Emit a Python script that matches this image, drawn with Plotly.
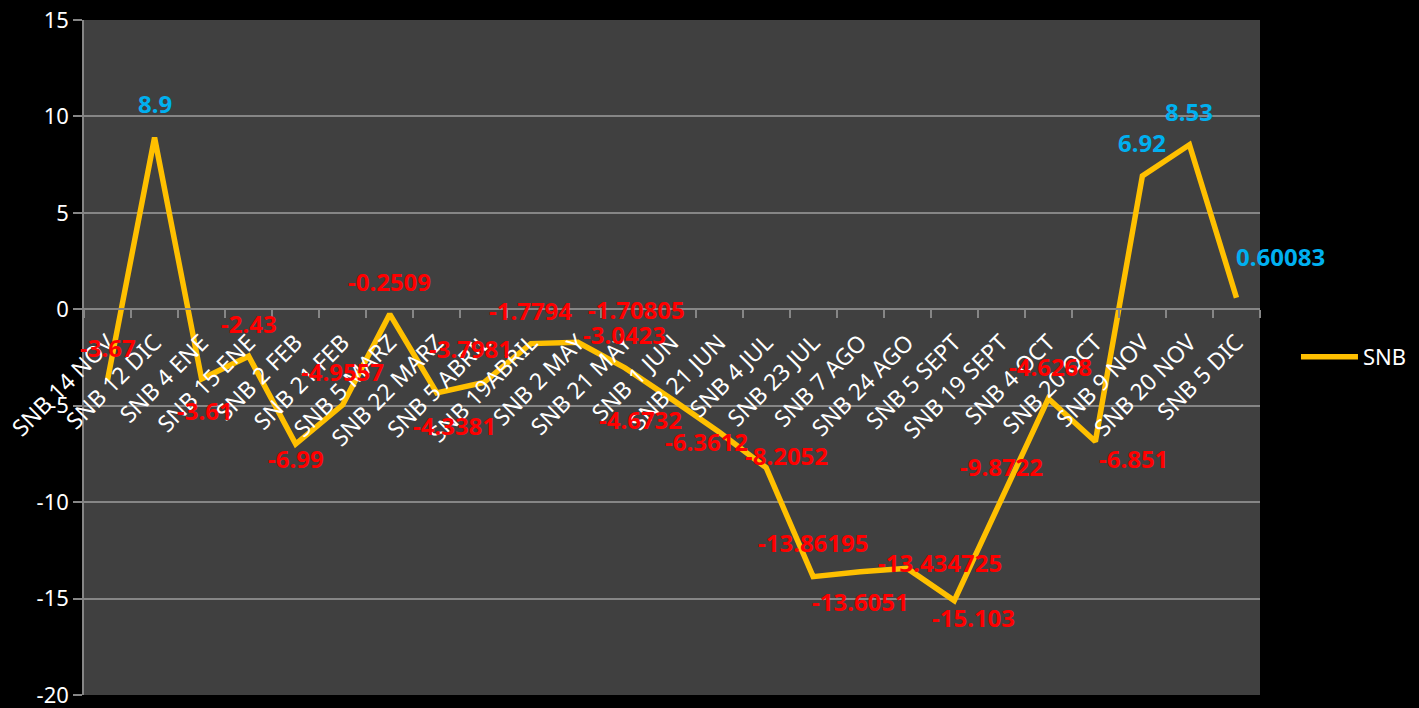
import plotly.graph_objects as go

categories = ["SNB 14 NOV", "SNB 12 DIC", "SNB 4 ENE", "SNB 15 ENE", "SNB 2 FEB",
              "SNB 21 FEB", "SNB 5 MARZ", "SNB 22 MARZ", "SNB 5 ABRIL", "SNB 19ABRIL",
              "SNB 2 MAY", "SNB 21 MAY", "SNB 1 JUN", "SNB 21 JUN", "SNB 4 JUL",
              "SNB 23 JUL", "SNB 7 AGO", "SNB 24 AGO", "SNB 5 SEPT", "SNB 19 SEPT",
              "SNB 4 OCT", "SNB 20 OCT", "SNB 9 NOV", "SNB 20 NOV", "SNB 5 DIC"]

snb_values = [-3.67, 8.9, -3.61, -2.43, -6.99, -4.9557, -0.2509, -4.3381, -3.7981, -1.7794,
              -1.70805, -3.0423, -4.6732, -6.3612, -8.2052, -13.86195, -13.6051, -13.434725,
              -15.103, -9.8722, -4.6268, -6.851, 6.92, 8.53, 0.60083]

label_texts = ["-3.67", "8.9", "-3.61", "-2.43", "-6.99", "-4.9557", "-0.2509", "-4.3381",
               "-3.7981", "-1.7794", "-1.70805", "-3.0423", "-4.6732", "-6.3612", "-8.2052",
               "-13.86195", "-13.6051", "-13.434725", "-15.103", "-9.8722", "-4.6268",
               "-6.851", "6.92", "8.53", "0.60083"]

# label offsets in pixels (dx right, dy down) relative to each point
label_dx = [0, 0, 3, 0, 0, 0, 0, 18, -13, 0, 59, 0, -32, -13, 20, 0, 0, 33, 19, 0, 2, 38, 0, 0, 44]
label_dy = [-33, -34, 32, -33, 14, -33, -33, 33, -34, -33, -33, -33, 20, 10, -12, -34, 30, -6, 17, -33, -32, 17, -33, -33, -41]

y_ticks = [-20, -15, -10, -5, 0, 5, 10, 15]
y_tick_text = ["-20", "-15", "-10", "-5", "0", "5", "10", "15"]
y_min, y_max = -20, 15

line_color = "#FFC000"
grid_color = "#868686"

fig = go.Figure()
fig.add_trace(go.Scatter(
    x=categories, y=snb_values, mode="lines", name="SNB",
    line=dict(color=line_color, width=5.5),
))

annotations = []
for c, v, t, dx, dy in zip(categories, snb_values, label_texts, label_dx, label_dy):
    annotations.append(dict(
        x=c, y=v, text=t, showarrow=False, xshift=dx, yshift=-dy,
        xanchor="center", yanchor="middle",
        font=dict(family="Noto Sans", size=24, color="#00B0F0" if v > 0 else "#FF0000",
                  weight="bold"),
    ))

fig.update_layout(
    width=1419, height=708,
    paper_bgcolor="black", plot_bgcolor="#404040",
    margin=dict(l=84, r=159, t=20, b=13),
    font=dict(family="Noto Sans", color="white"),
    showlegend=True,
    legend=dict(xref="container", yref="container", x=0.9133, y=0.4958,
                xanchor="left", yanchor="middle",
                font=dict(size=22, color="white"), bgcolor="rgba(0,0,0,0)",
                itemwidth=57),
    annotations=annotations,
    xaxis=dict(
        type="category", range=[-0.5, len(categories) - 0.5],
        anchor="free", position=(0 - y_min) / (y_max - y_min),
        showline=True, linecolor=grid_color, linewidth=1.5,
        ticks="outside", tickson="boundaries", ticklen=8, tickcolor=grid_color, tickwidth=1.5,
        tickangle=-45, tickfont=dict(size=23, color="white"), ticklabelstandoff=10,
        showgrid=False, zeroline=False, automargin=False,
    ),
    yaxis=dict(
        range=[y_min, y_max], tickvals=y_ticks, ticktext=y_tick_text,
        showline=True, linecolor=grid_color, linewidth=1.5,
        ticks="outside", ticklen=9, tickcolor=grid_color, tickwidth=1.5,
        tickfont=dict(size=22, color="white"), ticklabeloverflow="allow",
        showgrid=True, gridcolor=grid_color, gridwidth=1.5, zeroline=False,
        automargin=False,
    ),
)

fig.write_html("out.html", config={"displayModeBar": False})

# remove the default page margin so the figure fills the window exactly
with open("out.html", "r", encoding="utf-8") as f:
    html = f.read()
html = html.replace("<head>", "<head><style>html,body{margin:0;padding:0;background:#000;overflow:hidden}</style>", 1)
with open("out.html", "w", encoding="utf-8") as f:
    f.write(html)
